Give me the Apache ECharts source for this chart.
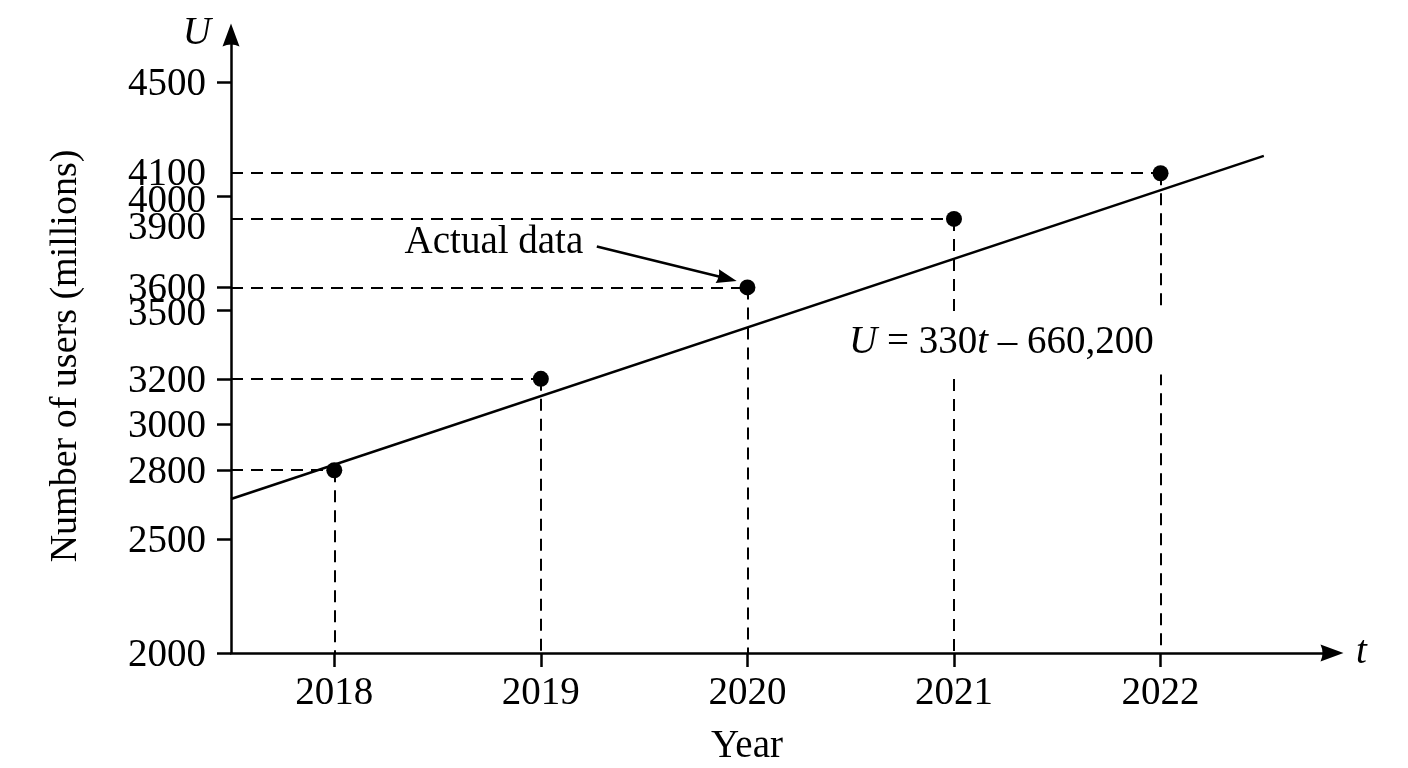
<!DOCTYPE html>
<html lang="en">
<head>
    <meta charset="UTF-8">
    <title>Number of users</title>
    <script src="https://cdn.jsdelivr.net/npm/echarts@6/dist/echarts.min.js"></script>
</head>
<style>
    html, body {
        margin: 0;
        background-color: #FFFFFF;
    }
</style>
<body>
<div id="main" style="width: 1408px;height: 768px;"></div>
<script>
    // data
    var years = [2018, 2019, 2020, 2021, 2022];
    var users = [2800, 3200, 3600, 3900, 4100];
    var trendT = [2017.5, 2022.5];
    var trendU = [2674, 4176];
    var yLabelValues = [2000, 2500, 2800, 3000, 3200, 3500, 3600, 3900, 4000, 4100, 4500];
    var yTickValues = [2000, 2500, 2800, 3000, 3200, 3500, 3600, 4000, 4500];
    var xMin = 2017.5, xMax = 2022.83, yMin = 2000, yMax = 4705;

    // annotation anchors (data coords)
    var arrowFrom = [2019.271, 3779];
    var arrowTo = [2019.901, 3639];
    var equationAt = [2021.23, 3357];

    var font = 'Liberation Serif';
    var fs = 39;
    var black = '#000';
    var axisHead = 'path://M8.5,0 L17,23 Q8.5,19 0,23 Z';
    var noteHead = 'path://M7,0 L14,20 Q7,17 0,20 Z';

    var points = [];
    var guides = [];
    for (var i = 0; i < years.length; i++) {
        points.push([years[i], users[i]]);
        guides.push([{coord: [xMin, users[i]]}, {coord: [years[i], users[i]]}]);
        guides.push([{coord: [years[i], users[i]]}, {coord: [years[i], yMin]}]);
    }
    var trend = [];
    for (var j = 0; j < trendT.length; j++) {
        trend.push([trendT[j], trendU[j]]);
    }

    // small nudges so the crowded y labels don't overlap
    var nudge = {3500: 'd0', 3900: 'd2', 4000: 'd1', 4100: 'u1'};
    function richLabel(pad) {
        return {fontFamily: font, fontSize: fs, color: black, padding: pad};
    }

    var myChart = echarts.init(document.getElementById('main'));
    var option = {
        animation: false,
        backgroundColor: '#FFFFFF',
        textStyle: {fontFamily: font, color: black},
        grid: {left: 231, right: 76, top: 35, bottom: 115, outerBoundsMode: 'none'},
        xAxis: [{
            type: 'value',
            min: xMin,
            max: xMax,
            name: 't',
            nameLocation: 'end',
            nameGap: 24,
            nameTextStyle: {fontFamily: font, fontSize: fs, fontStyle: 'italic', color: black, padding: [16, 0, 0, 0]},
            axisLine: {lineStyle: {color: black, width: 2.5}, symbol: ['none', axisHead], symbolSize: [17, 23]},
            axisTick: {length: 14, lineStyle: {color: black, width: 2.5}, customValues: years},
            axisLabel: {
                margin: 21, fontFamily: font, fontSize: fs, color: black, customValues: years,
                formatter: function (v) { return String(v); }
            },
            splitLine: {show: false}
        }, {
            type: 'value',
            min: xMin,
            max: xMax,
            position: 'bottom',
            name: 'Year',
            nameLocation: 'middle',
            nameGap: 74,
            nameTextStyle: {fontFamily: font, fontSize: fs, color: black, padding: [0, 69, 0, 0]},
            axisLine: {show: false},
            axisTick: {show: false},
            axisLabel: {show: false},
            splitLine: {show: false}
        }],
        yAxis: [{
            type: 'value',
            min: yMin,
            max: yMax,
            name: 'U',
            nameLocation: 'end',
            nameGap: -18,
            nameTextStyle: {
                fontFamily: font, fontSize: fs, fontStyle: 'italic', color: black,
                align: 'right', verticalAlign: 'bottom', padding: [0, 20, 0, 0]
            },
            axisLine: {lineStyle: {color: black, width: 2.5}, symbol: ['none', axisHead], symbolSize: [17, 23]},
            axisTick: {length: 14, lineStyle: {color: black, width: 2.5}, customValues: yTickValues},
            axisLabel: {
                margin: 25, fontFamily: font, fontSize: fs, color: black, customValues: yLabelValues,
                padding: [5, 0, 0, 0],
                formatter: function (v) {
                    return nudge[v] ? '{' + nudge[v] + '|' + v + '}' : String(v);
                },
                rich: {
                    d0: richLabel([4, 0, 0, 0]),
                    d2: richLabel([14, 0, 0, 0]),
                    d1: richLabel([6, 0, 0, 0]),
                    u1: richLabel([0, 0, 2, 0])
                }
            },
            splitLine: {show: false}
        }, {
            type: 'value',
            min: yMin,
            max: yMax,
            position: 'left',
            name: 'Number of users (millions)',
            nameLocation: 'middle',
            nameRotate: 90,
            nameGap: 146,
            nameTextStyle: {fontFamily: font, fontSize: fs - 1, color: black, padding: [0, 24, 0, 0]},
            axisLine: {show: false},
            axisTick: {show: false},
            axisLabel: {show: false},
            splitLine: {show: false}
        }],
        series: [
            {
                name: 'Actual data',
                type: 'scatter',
                data: points,
                symbolSize: 16,
                z: 3,
                itemStyle: {color: black, opacity: 1},
                markLine: {
                    silent: true,
                    z: 1,
                    symbol: ['none', 'none'],
                    label: {show: false},
                    lineStyle: {color: black, width: 2, type: [12, 8]},
                    data: guides
                }
            },
            {
                name: 'Trend',
                type: 'line',
                data: trend,
                showSymbol: false,
                z: 2,
                lineStyle: {color: black, width: 2.5},
                markLine: {
                    silent: true,
                    z: 4,
                    symbol: ['none', noteHead],
                    symbolSize: [14, 20],
                    lineStyle: {color: black, width: 2.5, type: 'solid'},
                    label: {
                        show: true,
                        position: 'start',
                        distance: 14,
                        formatter: 'Actual data',
                        fontFamily: font,
                        fontSize: fs,
                        color: black,
                        padding: [16, 0, 0, 0]
                    },
                    data: [[{coord: arrowFrom}, {coord: arrowTo}]]
                },
                markPoint: {
                    silent: true,
                    z: 10,
                    symbol: 'circle',
                    symbolSize: 0,
                    label: {
                        show: true,
                        position: 'inside',
                        formatter: '{i|U} = 330{i|t} \u2013 660,200',
                        fontFamily: font,
                        fontSize: fs,
                        color: black,
                        backgroundColor: '#FFFFFF',
                        padding: [12, 14],
                        rich: {
                            i: {fontFamily: font, fontSize: fs, fontStyle: 'italic', color: black}
                        }
                    },
                    data: [{coord: equationAt}]
                }
            }
        ]
    };
    myChart.setOption(option);
</script>
</body>
</html>
